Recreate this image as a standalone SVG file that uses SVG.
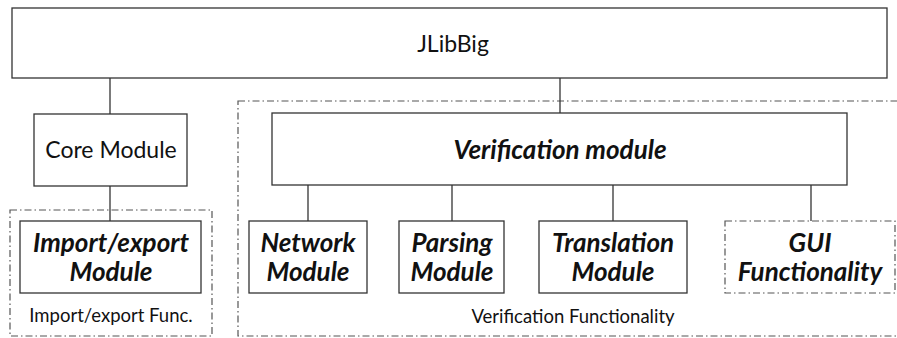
<svg xmlns="http://www.w3.org/2000/svg" width="897" height="338" viewBox="0 0 897 338">
<style>
.box{fill:#fff;stroke:#333;stroke-width:1.3}
.grp{fill:none;stroke:#555;stroke-width:1.2;stroke-dasharray:7 3 1.5 3}
.dbox{fill:#fff;stroke:#555;stroke-width:1.2;stroke-dasharray:7 3 1.5 3}
.con{stroke:#333;stroke-width:1.3;fill:none}
.t{font-family:"Lato","Open Sans",sans-serif;fill:#111;text-anchor:middle}
.r{font-size:23px}
.b{font-size:26px;font-weight:bold;font-style:italic}
.s{font-size:18.5px}
</style>
<rect width="897" height="338" fill="#fff"/>
<g id="group-importexport"><rect class="grp" x="10" y="210" width="202" height="126"/><text class="t s" x="111" y="322">Import/export Func.</text></g>
<g id="group-verification"><rect class="grp" x="238" y="101" width="666" height="235"/><text class="t s" x="573" y="323">Verification Functionality</text></g>
<g id="connectors">
<line class="con" x1="110" y1="78" x2="110" y2="114"/>
<line class="con" x1="560" y1="78" x2="560" y2="113"/>
<line class="con" x1="110" y1="186" x2="110" y2="221"/>
<line class="con" x1="308" y1="185" x2="308" y2="221"/>
<line class="con" x1="452" y1="185" x2="452" y2="221"/>
<line class="con" x1="613" y1="185" x2="613" y2="221"/>
<line class="con" x1="811" y1="185" x2="811" y2="221"/>
</g>
<g id="jlibbig"><rect class="box" x="12" y="8" width="875" height="70"/><text class="t r" x="453" y="52" font-size="24">JLibBig</text></g>
<g id="core"><rect class="box" x="34" y="114" width="153" height="72"/><text class="t r" x="111" y="158">Core Module</text></g>
<g id="importexport"><rect class="box" x="20" y="221" width="181" height="72"/><text class="t b" x="111" y="252">Import/export</text><text class="t b" x="111" y="281">Module</text></g>
<g id="verification"><rect class="box" x="272" y="113" width="575" height="72"/><text class="t b" x="560" y="159" font-size="27">Verification module</text></g>
<g id="network"><rect class="box" x="249" y="221" width="118" height="72"/><text class="t b" x="308" y="252">Network</text><text class="t b" x="308" y="281">Module</text></g>
<g id="parsing"><rect class="box" x="399" y="221" width="105" height="72"/><text class="t b" x="452" y="252">Parsing</text><text class="t b" x="452" y="281">Module</text></g>
<g id="translation"><rect class="box" x="539" y="221" width="148" height="72"/><text class="t b" x="613" y="252">Translation</text><text class="t b" x="613" y="281">Module</text></g>
<g id="gui"><rect class="dbox" x="725" y="221" width="170" height="72"/><text class="t b" x="810" y="252">GUI</text><text class="t b" x="810" y="281">Functionality</text></g>
</svg>
